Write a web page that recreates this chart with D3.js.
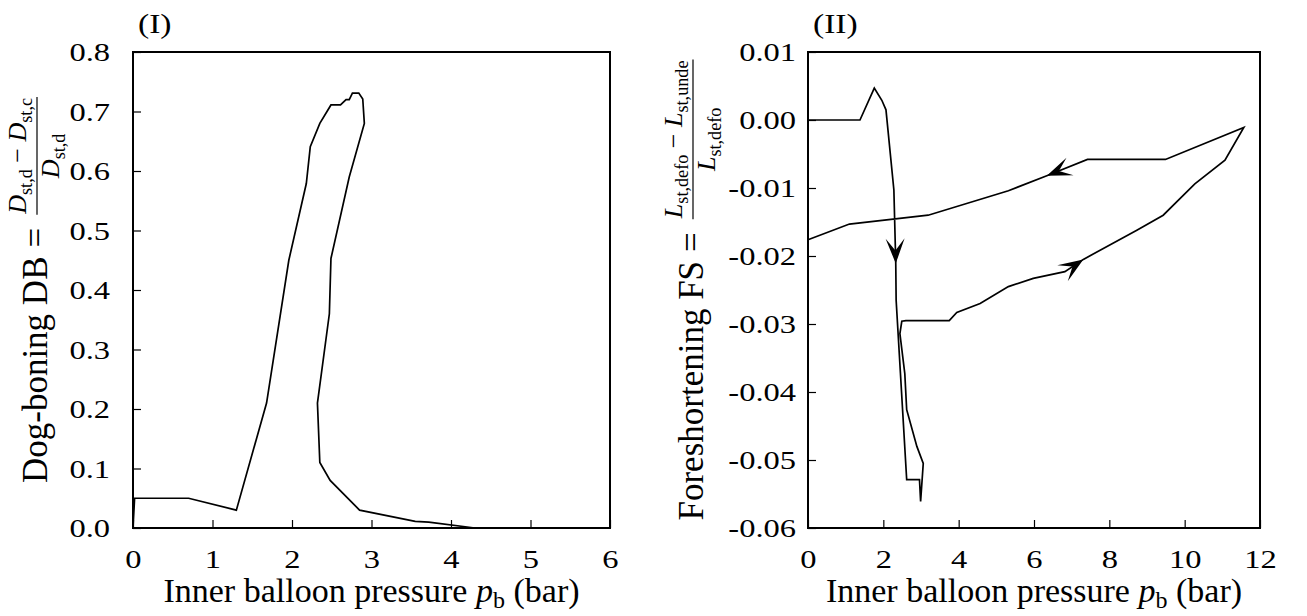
<!DOCTYPE html>
<html>
<head>
<meta charset="utf-8">
<script src="https://cdn.jsdelivr.net/npm/d3@7"></script>
<style>
  body { margin: 0; background: #fff; }
  svg { display: block; }
  text { font-family: "Liberation Serif", "Times New Roman", serif; fill: #000; }
</style>
</head>
<body>
<div id="chart"></div>
<script>
// panel (I): dog-boning vs pressure
const dbPressure = [0, 0.02, 0.70, 1.30, 1.68, 1.96, 2.18, 2.23, 2.35, 2.49, 2.61, 2.68, 2.72, 2.76, 2.84, 2.89, 2.91,
  2.72, 2.49, 2.47, 2.32, 2.35, 2.48, 2.85, 3.55, 3.72, 4.30, 5.62];
const dbValue = [0, 0.05, 0.05, 0.03, 0.21, 0.45, 0.579, 0.641, 0.68, 0.711, 0.711, 0.72, 0.72, 0.731, 0.731, 0.721, 0.68,
  0.59, 0.453, 0.36, 0.21, 0.11, 0.08, 0.03, 0.011, 0.01, 0, 0];
const dbXTicks = [0, 1, 2, 3, 4, 5, 6];
const dbYTicks = [0, 0.1, 0.2, 0.3, 0.4, 0.5, 0.6, 0.7, 0.8];

// panel (II): foreshortening vs pressure
const fsPressure = [0, 1.38, 1.76, 1.96, 2.07, 2.28, 2.33, 2.34, 2.62, 2.96, 2.99, 3.06, 2.89, 2.62, 2.57, 2.44, 2.49, 2.60,
  3.75, 3.95, 4.57, 5.32, 5.98, 6.82, 7.31, 8.73, 9.43, 10.27, 11.07, 11.57, 9.49, 7.42, 6.34, 5.32, 3.19, 1.10, 0];
const fsValue = [0, 0, 0.0047, 0.0029, 0.0015, -0.0103, -0.0211, -0.0265, -0.0529, -0.0529, -0.0561, -0.0505, -0.0480,
  -0.0426, -0.0373, -0.0314, -0.0296, -0.0295, -0.0295, -0.0283, -0.0270, -0.0245, -0.0233, -0.0223, -0.0205, -0.0162,
  -0.0140, -0.0094, -0.0059, -0.0011, -0.0058, -0.0058, -0.0082, -0.0104, -0.0140, -0.0153, -0.0176];
const fsArrowAt = [6, 24, 32];
const fsXTicks = [0, 2, 4, 6, 8, 10, 12];
const fsYTicks = [0.01, 0, -0.01, -0.02, -0.03, -0.04, -0.05, -0.06];

const W = 1307, H = 616;
const TICK_FONT = 26, STRETCH = 1.25;

const svg = d3.select("#chart").append("svg").attr("width", W).attr("height", H);

function drawPanel(opt) {
  const x = d3.scaleLinear().domain(opt.xDomain).range([opt.left, opt.right]);
  const y = d3.scaleLinear().domain(opt.yDomain).range([opt.bottom, opt.top]);
  const g = svg.append("g");

  // bottom axis, ticks pointing inwards
  const ax = g.append("g")
    .attr("transform", `translate(0,${opt.bottom})`)
    .call(d3.axisBottom(x).tickValues(opt.xTicks).tickSize(-8).tickPadding(22).tickFormat(d3.format("d")));
  ax.select(".domain").remove();
  ax.selectAll("line").attr("stroke-width", 1.2);
  ax.selectAll("text").attr("font-size", TICK_FONT).attr("font-family", null)
    .attr("transform", `scale(${STRETCH},1)`);

  // left axis
  const ay = g.append("g")
    .attr("transform", `translate(${opt.left},0)`)
    .call(d3.axisLeft(y).tickValues(opt.yTicks).tickSize(-8).tickFormat(opt.yFormat));
  ay.select(".domain").remove();
  ay.selectAll("line").attr("stroke-width", 1.2);
  ay.selectAll("text").attr("font-size", TICK_FONT).attr("font-family", null)
    .attr("x", -opt.yGap / STRETCH).attr("dy", "0.34em")
    .attr("transform", `scale(${STRETCH},1)`);

  // frame
  g.append("rect")
    .attr("x", opt.left).attr("y", opt.top)
    .attr("width", opt.right - opt.left).attr("height", opt.bottom - opt.top)
    .attr("fill", "none").attr("stroke", "#000").attr("stroke-width", 2);

  // curve
  const pts = opt.xs.map((v, i) => [v, opt.ys[i]]);
  const line = d3.line().x(d => x(d[0])).y(d => y(d[1]));
  g.append("path").datum(pts)
    .attr("d", line)
    .attr("fill", "none").attr("stroke", "#000")
    .attr("stroke-width", 1.7).attr("stroke-linejoin", "miter");

  // arrow heads along the path
  (opt.arrows || []).forEach(i => {
    const px = x(pts[i][0]), py = y(pts[i][1]);
    const qx = x(pts[i - 1][0]), qy = y(pts[i - 1][1]);
    const ang = Math.atan2(py - qy, px - qx) * 180 / Math.PI;
    g.append("path")
      .attr("d", "M0,0 L-25,-9.5 L-13,0 L-25,9.5 Z")
      .attr("transform", `translate(${px},${py}) rotate(${ang})`)
      .attr("fill", "#000");
  });

  // x label
  const xl = g.append("text")
    .attr("x", (opt.left + opt.right) / 2).attr("y", 602)
    .attr("text-anchor", "middle").attr("font-size", 34);
  xl.append("tspan").text("Inner balloon pressure ");
  xl.append("tspan").text("p").style("font-style", "italic");
  xl.append("tspan").text("b").attr("font-size", 24).attr("dy", 6);
  xl.append("tspan").text(" (bar)").attr("dy", -6);

  // panel tag
  g.append("text")
    .attr("transform", `translate(${opt.left + 5},33) scale(1.2,1)`)
    .attr("font-size", 28).text(opt.tag);

  drawYLabel(opt.labelX, (opt.top + opt.bottom) / 2, opt.word, opt.num, opt.den);
}

// writes runs of [text, kind] into a text node; kind: r roman, i italic, s subscript
function addRuns(t, runs, size) {
  let shift = 0;
  runs.forEach(([s, k]) => {
    const target = k === "s" ? size * 0.24 : 0;
    const ts = t.append("tspan").text(s).attr("dy", target - shift);
    shift = target;
    if (k === "i") ts.style("font-style", "italic");
    if (k === "s") ts.attr("font-size", size * 0.7);
  });
}

function drawYLabel(baseX, centerY, word, num, den) {
  const g = svg.append("g");
  const fs = 35, ff = 26;
  const t1 = g.append("text").attr("font-size", fs).text(word);
  const w1 = t1.node().getComputedTextLength();
  const eq = g.append("text").attr("font-size", fs).attr("x", w1 + 9).text("=");
  const w2 = eq.node().getComputedTextLength();
  const fx = w1 + 9 + w2 + 14;
  const nt = g.append("text").attr("font-size", ff).attr("x", fx).attr("y", -21);
  addRuns(nt, num, ff);
  const nw = nt.node().getComputedTextLength();
  const dt = g.append("text").attr("font-size", ff).attr("y", 12);
  addRuns(dt, den, ff);
  const dw = dt.node().getComputedTextLength();
  dt.attr("x", fx + (nw - dw) / 2);
  g.append("line")
    .attr("x1", fx - 1).attr("x2", fx + nw + 1)
    .attr("y1", -10).attr("y2", -10)
    .attr("stroke", "#000").attr("stroke-width", 1.2);
  const total = fx + nw + 1;
  g.attr("transform", `translate(${baseX},${centerY + total / 2}) rotate(-90)`);
}

drawPanel({
  xDomain: [0, 6], yDomain: [0, 0.8],
  left: 133, right: 610, top: 52, bottom: 528,
  xTicks: dbXTicks, yTicks: dbYTicks, yFormat: d3.format(".1f"), yGap: 23,
  xs: dbPressure, ys: dbValue,
  tag: "(I)", labelX: 47,
  word: "Dog-boning DB ",
  num: [["D", "i"], ["st,d", "s"], [" \u2212 ", "r"], ["D", "i"], ["st,c", "s"]],
  den: [["D", "i"], ["st,d", "s"]]
});

drawPanel({
  xDomain: [0, 12], yDomain: [-0.06, 0.01],
  left: 808, right: 1260, top: 52, bottom: 528,
  xTicks: fsXTicks, yTicks: fsYTicks, yFormat: d => d3.format(".2f")(d).replace("\u2212", "-"), yGap: 12,
  xs: fsPressure, ys: fsValue, arrows: fsArrowAt,
  tag: "(II)", labelX: 703,
  word: "Foreshortening FS ",
  num: [["L", "i"], ["st,defo", "s"], [" \u2212 ", "r"], ["L", "i"], ["st,unde", "s"]],
  den: [["L", "i"], ["st,defo", "s"]]
});
</script>
</body>
</html>
